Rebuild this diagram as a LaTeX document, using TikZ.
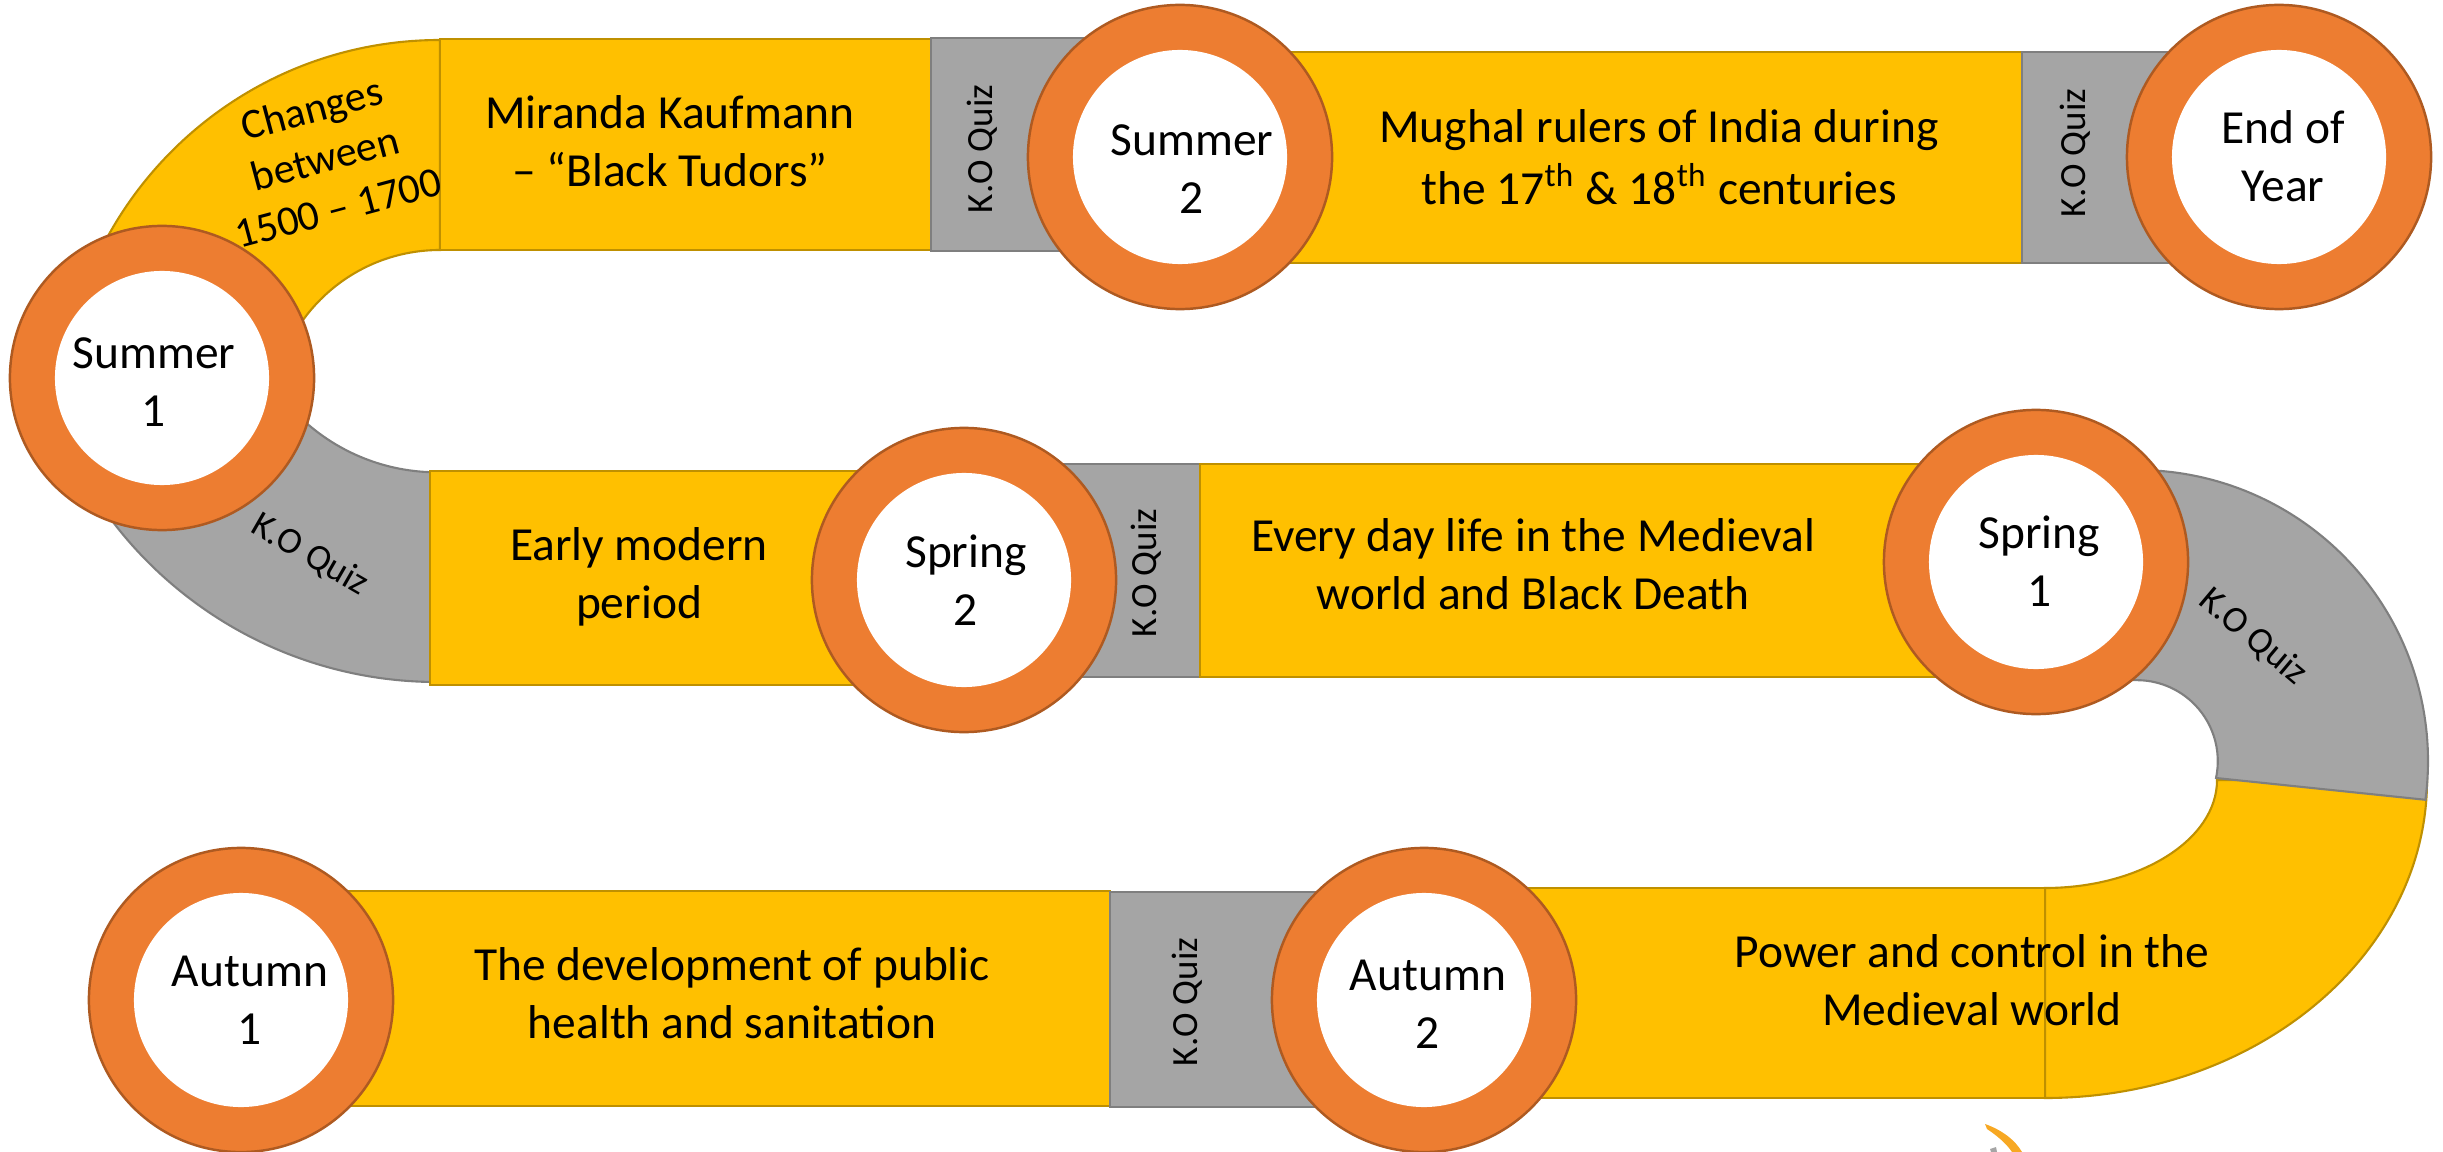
\documentclass[tikz,border=0pt]{standalone}
\usepackage{fontspec}
\setmainfont{Carlito}
\newcommand\mainfs{\fontsize{13.5}{16.5}\selectfont}
\newcommand\kofs{\fontsize{10.5}{12.5}\selectfont}
\newcommand\chfs{\fontsize{12}{14.6}\selectfont}
\definecolor{yfill}{HTML}{FFC000}
\definecolor{yline}{HTML}{BF9000}
\definecolor{gfill}{HTML}{A5A5A5}
\definecolor{gline}{HTML}{7F7F7F}
\definecolor{orfill}{HTML}{ED7D31}
\definecolor{orline}{HTML}{AE5A21}
\definecolor{logoor}{HTML}{F7A823}
\begin{document}
\begin{tikzpicture}[x=0.01cm,y=-0.01cm,
  ybox/.style={fill=yfill, draw=yline, line width=0.6pt},
  gbox/.style={fill=gfill, draw=gline, line width=0.6pt},
  ringo/.style={circle, fill=orfill, draw=orline, line width=0.7pt, minimum size=3.04cm, inner sep=0pt},
  ringi/.style={circle, fill=white, minimum size=2.14cm, inner sep=0pt},
  lbl/.style={align=center, font=\mainfs, inner sep=0pt},
  ko/.style={font=\kofs, inner sep=0pt},
  chg/.style={align=center, font=\chfs, inner sep=0pt}]
\useasboundingbox (0,0) rectangle (2443,1152);

% ---- left bends ----
\draw[ybox] (440,40) arc[start angle=270, end angle=180, radius=379]
  -- (271,419) arc[start angle=180, end angle=270, radius=169] -- cycle;
\draw[gbox] (437,682) arc[start angle=90, end angle=160, radius=408]
  -- (251,342) arc[start angle=160, end angle=90, radius=198] -- cycle;

% ---- row 1 ----
\draw[ybox] (440,39) rectangle (931,250);
\draw[gbox] (931,38) rectangle (1180,251);
\draw[ybox] (1180,52) rectangle (2022,263);
\draw[gbox] (2022,52) rectangle (2279,263);

% ---- row 2 ----
\draw[ybox] (430,471) rectangle (964,685);
\draw[gbox] (964,464) rectangle (1200,677);
\draw[ybox] (1200,464) rectangle (2036,677);

% ---- right bend ----
\draw[ybox] (2427,780) arc[start angle=0, end angle=90, x radius=382, y radius=318]
  -- (2045,888) arc[start angle=90, end angle=0, x radius=172, y radius=108] -- cycle;
\draw[gbox] (2036,470) -- (2137,470) arc[start angle=270, end angle=367.66, radius=291]
  -- (2216,778) arc[start angle=12, end angle=-90, radius=81] -- (2036,680) -- cycle;

% ---- row 3 ----
\draw[ybox] (241,891) rectangle (1110,1106);
\draw[gbox] (1110,892) rectangle (1424,1107);
\draw[ybox] (1424,888) rectangle (2045,1098);

% ---- rings ----
\node[ringo] (s1o) at (162,378) {};  \node[ringi] (s1i) at (162,378) {};
\node[ringo] (s2o) at (1180,157) {}; \node[ringi] (s2i) at (1180,157) {};
\node[ringo] (eyo) at (2279,157) {}; \node[ringi] (eyi) at (2279,157) {};
\node[ringo] (p2o) at (964,580) {};  \node[ringi] (p2i) at (964,580) {};
\node[ringo] (p1o) at (2036,562) {}; \node[ringi] (p1i) at (2036,562) {};
\node[ringo] (a1o) at (241,1000) {}; \node[ringi] (a1i) at (241,1000) {};
\node[ringo] (a2o) at (1424,1000) {};\node[ringi] (a2i) at (1424,1000) {};

% ---- ring texts ----
\node[lbl] (s1t) at (154,386) {\strut Summer\\\strut 1};
\node[lbl] (s2t) at (1192,173) {\strut Summer\\\strut 2};
\node[lbl] (eyt) at (2283,161) {\strut End of\\\strut Year};
\node[lbl] (p2t) at (966,585) {\strut Spring\\\strut 2};
\node[lbl] (p1t) at (2039,566) {\strut Spring\\\strut 1};
\node[lbl] (a1t) at (250,1004) {\strut Autumn\\\strut 1};
\node[lbl] (a2t) at (1428,1008) {\strut Autumn\\\strut 2};

% ---- topic texts ----
\node[chg, rotate=15] (chg) at (326,162) {\strut Changes\\\strut between\\\strut 1500 – 1700};
\node[lbl] (mir) at (670,146) {\strut Miranda Kaufmann\\\strut – “Black Tudors”};
\node[lbl] (mug) at (1659,162) {\strut Mughal rulers of India during\\\strut the 17\textsuperscript{th} \& 18\textsuperscript{th} centuries};
\node[lbl] (ear) at (639,578) {\strut Early modern\\\strut period};
\node[lbl] (evd) at (1533,569) {\strut Every day life in the Medieval\\\strut world and Black Death};
\node[lbl] (dev) at (732,998) {\strut The development of public\\\strut health and sanitation};
\node[lbl] (pow) at (1972,985) {\strut Power and control in the\\\strut Medieval world};

% ---- quiz labels ----
\node[ko, rotate=90] (k1) at (982,149) {K.O Quiz};
\node[ko, rotate=90] (k2) at (2075,153) {K.O Quiz};
\node[ko, rotate=90] (k3) at (1146,573) {K.O Quiz};
\node[ko, rotate=90] (k4) at (1187,1002) {K.O Quiz};
\node[ko, rotate=-30] (kl) at (310,555) {K.O Quiz};
\node[ko, rotate=-40] (kr) at (2253,637) {K.O Quiz};

% ---- cut-off logo ----
\fill[logoor] (1985,1124) .. controls (2002,1130) and (2015,1140) .. (2022,1152)
  -- (2012,1152) .. controls (2006,1143) and (1996,1135) .. (1987,1129) -- cycle;
\fill[gfill] (1990,1149) -- (1996,1147) -- (1997,1152) -- (1991,1152) -- cycle;
\end{tikzpicture}
\end{document}
